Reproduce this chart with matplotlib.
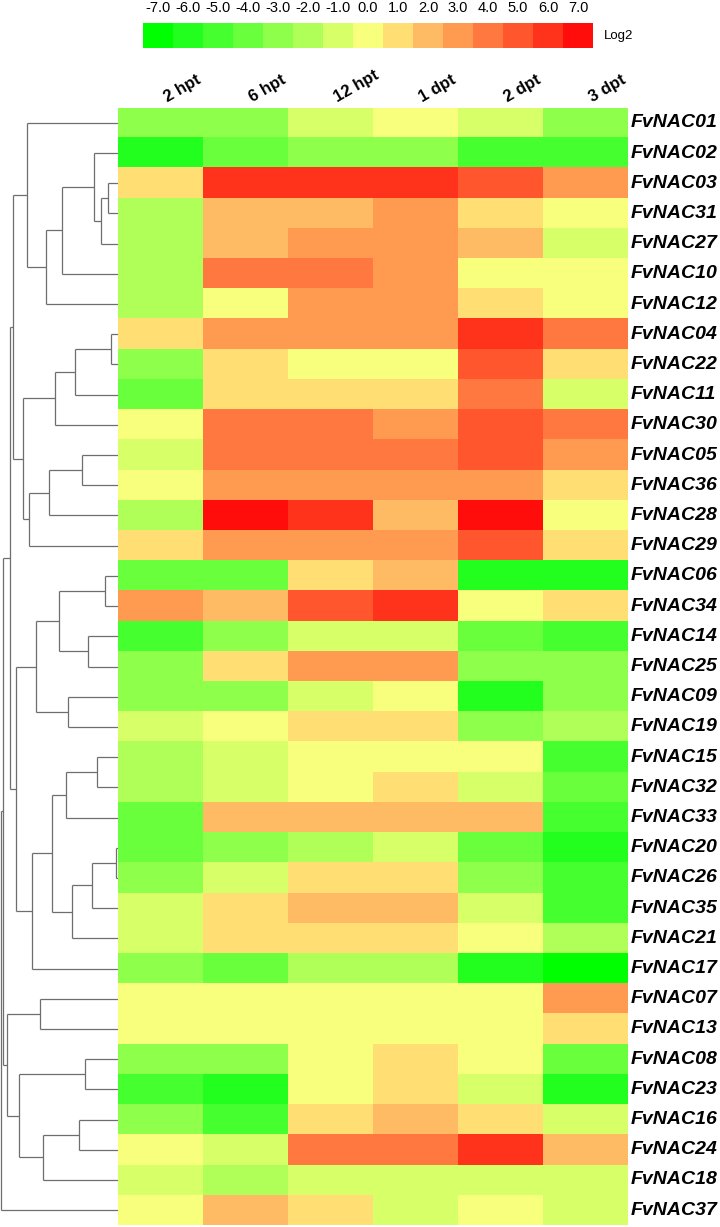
import numpy as np
import matplotlib
matplotlib.use("Agg")
import matplotlib.pyplot as plt
from matplotlib.colors import ListedColormap, BoundaryNorm

plt.rcParams['font.family'] = ['Liberation Sans', 'DejaVu Sans']

# ---- data ----
genes = ["FvNAC01", "FvNAC02", "FvNAC03", "FvNAC31", "FvNAC27", "FvNAC10", "FvNAC12",
         "FvNAC04", "FvNAC22", "FvNAC11", "FvNAC30", "FvNAC05", "FvNAC36", "FvNAC28",
         "FvNAC29", "FvNAC06", "FvNAC34", "FvNAC14", "FvNAC25", "FvNAC09", "FvNAC19",
         "FvNAC15", "FvNAC32", "FvNAC33", "FvNAC20", "FvNAC26", "FvNAC35", "FvNAC21",
         "FvNAC17", "FvNAC07", "FvNAC13", "FvNAC08", "FvNAC23", "FvNAC16", "FvNAC24",
         "FvNAC18", "FvNAC37"]
timepoints = ["2 hpt", "6 hpt", "12 hpt", "1 dpt", "2 dpt", "3 dpt"]

# log2 fold change (colour level) per gene, per time point
log2_values = [
    [-3, -3, -1, 0, -1, -3],   # FvNAC01
    [-6, -4, -3, -3, -5, -5],  # FvNAC02
    [1, 6, 6, 6, 5, 3],        # FvNAC03
    [-2, 2, 2, 3, 1, 0],       # FvNAC31
    [-2, 2, 3, 3, 2, -1],      # FvNAC27
    [-2, 4, 4, 3, 0, 0],       # FvNAC10
    [-2, 0, 3, 3, 1, 0],       # FvNAC12
    [1, 3, 3, 3, 6, 4],        # FvNAC04
    [-3, 1, 0, 0, 5, 1],       # FvNAC22
    [-4, 1, 1, 1, 4, -1],      # FvNAC11
    [0, 4, 4, 3, 5, 4],        # FvNAC30
    [-1, 4, 4, 4, 5, 3],       # FvNAC05
    [0, 3, 3, 3, 3, 1],        # FvNAC36
    [-2, 7, 6, 2, 7, 0],       # FvNAC28
    [1, 3, 3, 3, 5, 1],        # FvNAC29
    [-4, -4, 1, 2, -6, -6],    # FvNAC06
    [3, 2, 5, 6, 0, 1],        # FvNAC34
    [-5, -3, -1, -1, -4, -5],  # FvNAC14
    [-3, 1, 3, 3, -3, -3],     # FvNAC25
    [-3, -3, -1, 0, -6, -3],   # FvNAC09
    [-1, 0, 1, 1, -3, -2],     # FvNAC19
    [-2, -1, 0, 0, 0, -5],     # FvNAC15
    [-2, -1, 0, 1, -1, -4],    # FvNAC32
    [-4, 2, 2, 2, 2, -5],      # FvNAC33
    [-4, -3, -2, -1, -4, -6],  # FvNAC20
    [-3, -1, 1, 1, -3, -5],    # FvNAC26
    [-1, 1, 2, 2, -1, -5],     # FvNAC35
    [-1, 1, 1, 1, 0, -2],      # FvNAC21
    [-3, -4, -2, -2, -6, -7],  # FvNAC17
    [0, 0, 0, 0, 0, 3],        # FvNAC07
    [0, 0, 0, 0, 0, 1],        # FvNAC13
    [-3, -3, 0, 1, 0, -4],     # FvNAC08
    [-5, -6, 0, 1, -1, -6],    # FvNAC23
    [-3, -5, 1, 2, 1, -1],     # FvNAC16
    [0, -1, 4, 4, 6, 2],       # FvNAC24
    [-1, -2, -1, -1, -1, -1],  # FvNAC18
    [0, 2, 1, -1, 0, -1],      # FvNAC37
]

scale_levels = [-7, -6, -5, -4, -3, -2, -1, 0, 1, 2, 3, 4, 5, 6, 7]
scale_colors = ["#00ff00", "#22ff1e", "#46ff2e", "#6aff3c", "#8eff4a", "#b0ff58",
                "#d6ff68", "#f8ff7c", "#ffde74", "#ffbb63", "#ff9a51", "#ff783f",
                "#ff562d", "#ff321c", "#ff0d0a"]

# dendrogram merges: (child a, child b, height); leaves are 0..36, new nodes 37, 38, ...
merges = [
    (2, 3, 10.1), (37, 4, 17.4), (1, 38, 23.8), (39, 5, 56.4), (40, 6, 72.5),
    (0, 41, 91.4),
    (7, 8, 7.0), (43, 9, 42.7), (44, 10, 62.8),
    (11, 12, 36.3), (46, 13, 69.3), (47, 14, 88.6),
    (45, 48, 95.0), (42, 49, 104.7),
    (15, 16, 13.3), (17, 18, 29.8), (51, 52, 59.2), (19, 20, 49.6), (53, 54, 81.8),
    (21, 22, 20.6), (56, 23, 52.4), (24, 25, 2.5), (58, 26, 26.2), (59, 27, 46.3),
    (57, 60, 65.7), (61, 28, 85.8),
    (55, 62, 101.9), (50, 63, 108.3),
    (29, 30, 78.5), (31, 32, 33.5), (33, 34, 39.5), (67, 35, 75.3), (66, 68, 98.7),
    (65, 69, 111.2),
    (64, 70, 114.8), (71, 36, 117.2),
]

# ---- figure ----
W, H = 720, 1227
fig = plt.figure(figsize=(W / 100, H / 100), dpi=100)


def px_axes(x0, y0, x1, y1):
    return fig.add_axes([x0 / W, 1 - y1 / H, (x1 - x0) / W, (y1 - y0) / H])


cmap = ListedColormap(scale_colors)
norm = BoundaryNorm(np.arange(-7.5, 8.5, 1), cmap.N)

top, bottom = 107.7, 1225.3

# heatmap
ax = px_axes(118, top, 628, bottom)
ax.imshow(np.array(log2_values), cmap=cmap, norm=norm, aspect='auto',
          interpolation='nearest')
ax.set_axis_off()
for j, t in enumerate(timepoints):
    ax.text(j + 0.01, -0.59, t, rotation=30, ha='left', va='bottom',
            fontsize=12, fontweight='bold', clip_on=False)
for i, g in enumerate(genes):
    ax.text(5.5 + 0.03, i, g, ha='left', va='center', fontsize=14,
            fontweight='bold', style='italic', clip_on=False)

# dendrogram
dax = px_axes(0, top, 118, bottom)
pos = {i: (0.0, i + 0.5) for i in range(len(genes))}
line_kw = dict(color='#6e6e6e', lw=0.9, solid_capstyle='butt')
for k, (a, b, h) in enumerate(merges):
    ha_, ya = pos[a]
    hb, yb = pos[b]
    dax.plot([ha_, h], [ya, ya], **line_kw)
    dax.plot([hb, h], [yb, yb], **line_kw)
    dax.plot([h, h], [ya, yb], **line_kw)
    pos[len(genes) + k] = (h, (ya + yb) / 2)
dax.set_xlim(118, 0)
dax.set_ylim(len(genes), 0)
dax.set_axis_off()

# colour scale
cax = px_axes(143, 23, 593, 48)
cax.imshow(np.array([scale_levels]), cmap=cmap, norm=norm, aspect='auto',
           interpolation='nearest')
cax.set_axis_off()
for k, v in enumerate(scale_levels):
    cax.text(k, -0.94, f"{v:.1f}", ha='center', va='baseline', fontsize=10.5,
             clip_on=False)
cax.text(14.5 + 0.35, 0, "Log2", ha='left', va='center', fontsize=9.5,
         clip_on=False)

fig.savefig("out.png", dpi=100)
